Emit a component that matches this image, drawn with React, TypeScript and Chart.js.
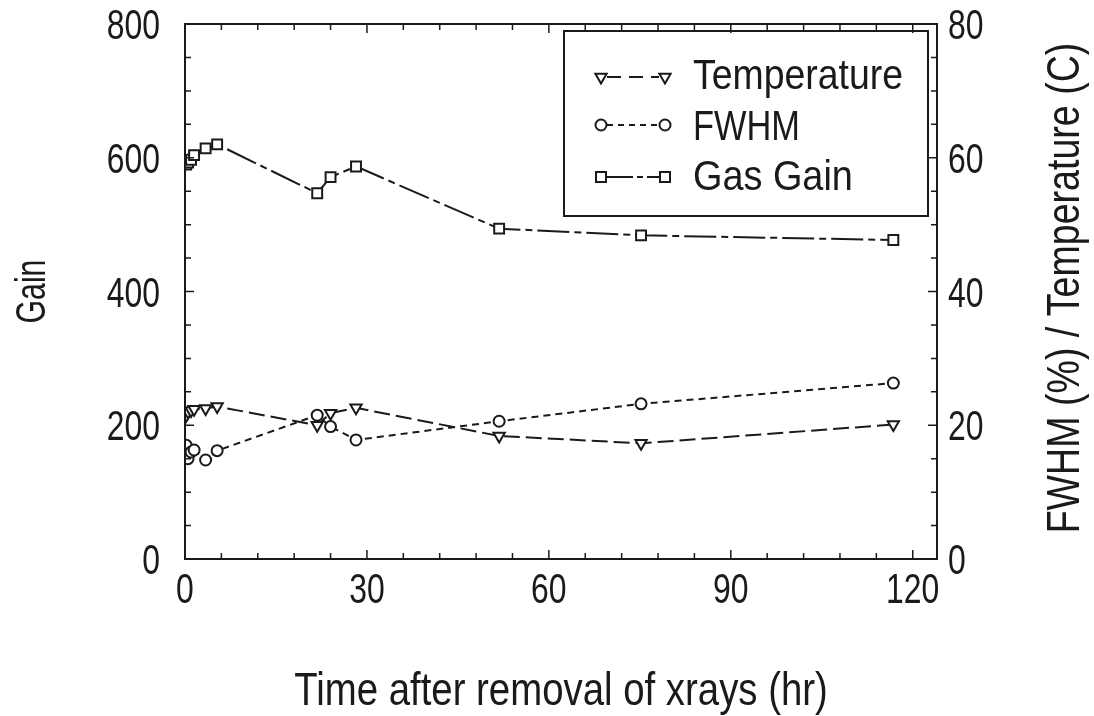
import React, { useEffect, useRef } from "react";
import { Chart, registerables } from "chart.js";

Chart.register(...registerables);

// ---- data ----
const hours = [0.2, 0.5, 1.0, 1.5, 3.4, 5.3, 21.8, 24.0, 28.2, 51.8, 75.2, 116.8];
const gasGain = [590, 593, 597, 604, 614, 620, 547, 571, 587, 494, 484, 477];
const fwhm = [17.0, 15.0, 16.0, 16.3, 14.8, 16.2, 21.5, 19.8, 17.8, 20.6, 23.2, 26.3];
const temperature = [21.5, 22.0, 22.2, 22.4, 22.5, 22.8, 20.0, 21.8, 22.6, 18.4, 17.3, 20.1];

const xTickValues = [0, 30, 60, 90, 120];
const leftTickValues = [0, 200, 400, 600, 800];
const rightTickValues = [0, 20, 40, 60, 80];

const xTitle = "Time after removal of xrays (hr)";
const leftTitle = "Gain";
const rightTitle = "FWHM (%) / Temperature (C)";

const seriesNames = ["Temperature", "FWHM", "Gas Gain"];

const FONT = '"Liberation Sans", Arial, sans-serif';
const INK = "#1a1a1a";

const DASH_TEMP = [16, 6];
const DASH_FWHM = [7, 5];
const DASH_GAIN = [32, 5, 7, 5];

function pts(ys: number[]) {
  return hours.map((h, i) => ({ x: h, y: ys[i] }));
}

function drawText(
  ctx: CanvasRenderingContext2D,
  text: string,
  x: number,
  y: number,
  size: number,
  sx: number,
  align: CanvasTextAlign,
  rot = 0
) {
  ctx.save();
  ctx.translate(x, y);
  if (rot) ctx.rotate(rot);
  ctx.scale(sx, 1);
  ctx.font = `${size}px ${FONT}`;
  ctx.fillStyle = INK;
  ctx.textAlign = align;
  ctx.textBaseline = "alphabetic";
  ctx.fillText(text, 0, 0);
  ctx.restore();
}

function drawMarker(ctx: CanvasRenderingContext2D, style: string, x: number, y: number) {
  ctx.save();
  ctx.fillStyle = "#fff";
  ctx.strokeStyle = INK;
  ctx.lineWidth = 2;
  ctx.setLineDash([]);
  ctx.beginPath();
  if (style === "tri") {
    const r = 6.5;
    ctx.moveTo(x - r * 0.866, y - r * 0.5);
    ctx.lineTo(x + r * 0.866, y - r * 0.5);
    ctx.lineTo(x, y + r);
    ctx.closePath();
  } else if (style === "circle") {
    ctx.arc(x, y, 5.5, 0, Math.PI * 2);
  } else {
    ctx.rect(x - 5, y - 5, 10, 10);
  }
  ctx.fill();
  ctx.stroke();
  ctx.restore();
}

const framePlugin = {
  id: "frameAndDecor",
  afterDraw(chart: any) {
    const ctx: CanvasRenderingContext2D = chart.ctx;
    const ca = chart.chartArea;
    const xs = chart.scales.x;
    const yl = chart.scales.y;
    const yr = chart.scales.y2;
    ctx.save();
    ctx.strokeStyle = INK;
    ctx.lineWidth = 2;
    ctx.setLineDash([]);
    ctx.strokeRect(ca.left, ca.top, ca.right - ca.left, ca.bottom - ca.top);

    // inward ticks
    ctx.lineWidth = 1.5;
    for (let v = 6; v < 124; v += 6) {
      const px = xs.getPixelForValue(v);
      const len = v % 30 === 0 ? 9 : 6;
      ctx.beginPath();
      ctx.moveTo(px, ca.bottom);
      ctx.lineTo(px, ca.bottom - len);
      ctx.moveTo(px, ca.top);
      ctx.lineTo(px, ca.top + len);
      ctx.stroke();
    }
    for (let v = 50; v < 800; v += 50) {
      const py = yl.getPixelForValue(v);
      const len = v % 200 === 0 ? 9 : 6;
      ctx.beginPath();
      ctx.moveTo(ca.left, py);
      ctx.lineTo(ca.left + len, py);
      ctx.moveTo(ca.right, py);
      ctx.lineTo(ca.right - len, py);
      ctx.stroke();
    }

    // tick labels (from the scales' own ticks)
    xs.ticks.forEach((t: any) => {
      drawText(ctx, String(t.value), xs.getPixelForValue(t.value), ca.bottom + 44, 42, 0.76, "center");
    });
    yl.ticks.forEach((t: any) => {
      drawText(ctx, String(t.value), ca.left - 25, yl.getPixelForValue(t.value) + 15, 42, 0.76, "right");
    });
    yr.ticks.forEach((t: any) => {
      drawText(ctx, String(t.value), ca.right + 11, yr.getPixelForValue(t.value) + 15, 42, 0.76, "left");
    });

    // axis titles
    drawText(ctx, xTitle, (ca.left + ca.right) / 2, 705, 46, 0.834, "center");
    drawText(ctx, leftTitle, 45, (ca.top + ca.bottom) / 2, 42, 0.72, "center", -Math.PI / 2);
    drawText(ctx, rightTitle, 1079, 288, 46, 0.817, "center", -Math.PI / 2);

    // legend box
    const bx = ca.right - 373;
    const by = ca.top + 7;
    const bw = 364;
    const bh = 185;
    ctx.strokeStyle = INK;
    ctx.lineWidth = 2;
    ctx.strokeRect(bx, by, bw, bh);
    const styles = ["tri", "circle", "square"];
    const dashes = [[14, 8], [6, 5], [26, 4, 6, 4]];
    const rows = [46, 94, 146];
    const baselines = [58, 109, 159];
    const widths = [0.87, 0.8, 0.88];
    for (let i = 0; i < 3; i++) {
      const ry = by + rows[i];
      const x1 = bx + 37;
      const x2 = bx + 101;
      ctx.save();
      ctx.lineWidth = 2;
      ctx.setLineDash(dashes[i]);
      ctx.beginPath();
      ctx.moveTo(x1 + 6, ry);
      ctx.lineTo(x2 - 6, ry);
      ctx.stroke();
      ctx.restore();
      drawMarker(ctx, styles[i], x1, ry);
      drawMarker(ctx, styles[i], x2, ry);
      drawText(ctx, seriesNames[i], bx + 129, by + baselines[i], 43, widths[i], "left");
    }
    ctx.restore();
  },
};

export default function App() {
  const ref = useRef<HTMLCanvasElement | null>(null);
  useEffect(() => {
    if (!ref.current) return;
    const common = {
      borderColor: INK,
      borderWidth: 2,
      pointBorderWidth: 2,
      pointBackgroundColor: "#fff",
      pointBorderColor: INK,
      tension: 0,
    };
    const chart = new Chart(ref.current, {
      type: "line",
      data: {
        datasets: [
          {
            ...common,
            label: seriesNames[0],
            data: pts(temperature),
            yAxisID: "y2",
            borderDash: DASH_TEMP,
            pointStyle: "triangle",
            rotation: 180,
            radius: 6.5,
          },
          {
            ...common,
            label: seriesNames[1],
            data: pts(fwhm),
            yAxisID: "y2",
            borderDash: DASH_FWHM,
            pointStyle: "circle",
            radius: 5.5,
          },
          {
            ...common,
            label: seriesNames[2],
            data: pts(gasGain),
            yAxisID: "y",
            borderDash: DASH_GAIN,
            pointStyle: "rect",
            radius: 7,
          },
        ] as any,
      },
      options: {
        animation: false,
        responsive: false,
        devicePixelRatio: 1,
        layout: { padding: { top: 24, left: 0, right: 0, bottom: 0 } },
        plugins: { legend: { display: false }, tooltip: { enabled: false } },
        scales: {
          x: {
            type: "linear",
            position: "bottom",
            min: 0,
            max: 124,
            grid: { display: false },
            border: { display: false },
            ticks: { display: false },
            afterBuildTicks: (s: any) => {
              s.ticks = xTickValues.map((v) => ({ value: v }));
            },
            afterFit: (s: any) => {
              s.height = 157;
            },
          },
          y: {
            type: "linear",
            position: "left",
            min: 0,
            max: 800,
            grid: { display: false },
            border: { display: false },
            ticks: { display: false },
            afterBuildTicks: (s: any) => {
              s.ticks = leftTickValues.map((v) => ({ value: v }));
            },
            afterFit: (s: any) => {
              s.width = 185;
            },
          },
          y2: {
            type: "linear",
            position: "right",
            min: 0,
            max: 80,
            grid: { display: false },
            border: { display: false },
            ticks: { display: false },
            afterBuildTicks: (s: any) => {
              s.ticks = rightTickValues.map((v) => ({ value: v }));
            },
            afterFit: (s: any) => {
              s.width = 157;
            },
          },
        },
      } as any,
      plugins: [framePlugin],
    });
    return () => chart.destroy();
  }, []);
  return (
    <div style={{ position: "absolute", left: 0, top: 0, width: 1094, height: 716, background: "#fff" }}>
      <canvas ref={ref} width={1094} height={716} style={{ display: "block" }} />
    </div>
  );
}
